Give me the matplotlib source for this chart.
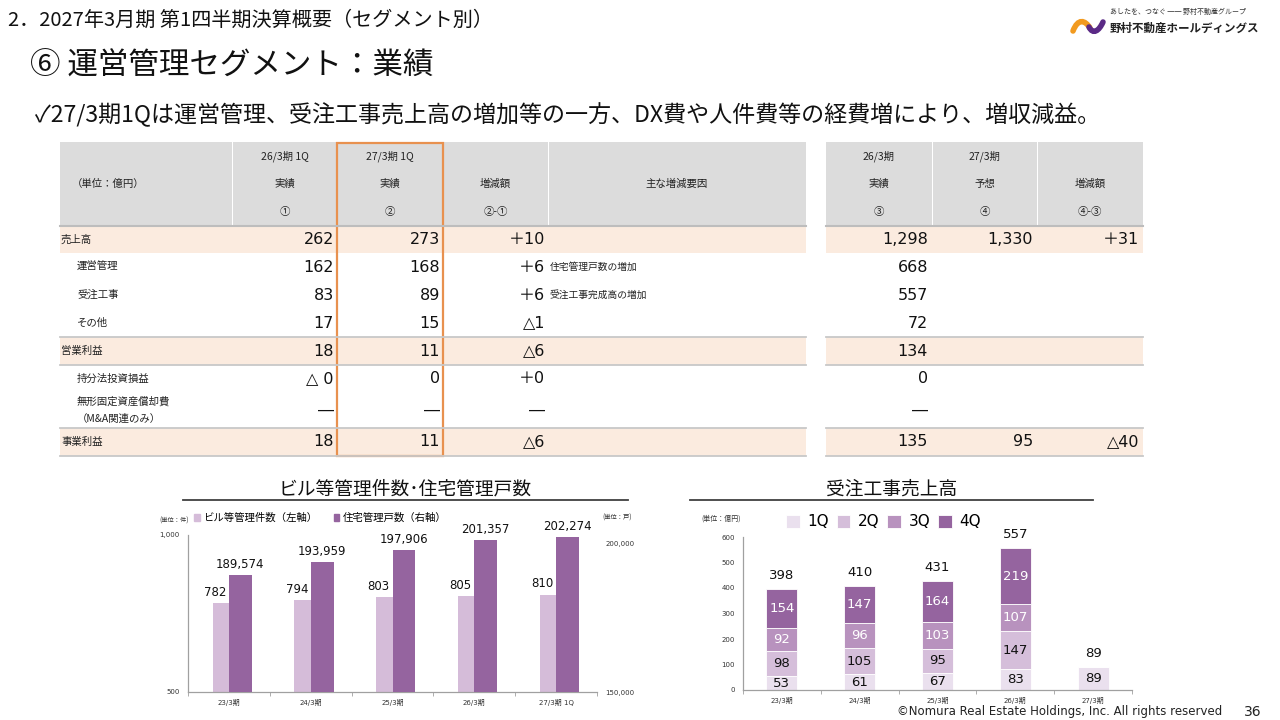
import numpy as np
import matplotlib
matplotlib.use('Agg')
import matplotlib.pyplot as plt
from matplotlib.patches import Rectangle, PathPatch
from matplotlib.path import Path
from matplotlib.ticker import FixedLocator, FuncFormatter

JP = ['Noto Sans CJK JP', 'DejaVu Sans']
NUM = ['DejaVu Sans', 'Noto Sans CJK JP']
plt.rcParams['font.family'] = NUM

# ---------------- data ----------------
# summary table
row_labels = ['売上高', '運営管理', '受注工事', 'その他', '営業利益', '持分法投資損益',
              '無形固定資産償却費\n（M&A関連のみ）', '事業利益']
row_indent = [False, True, True, True, False, True, True, False]
row_highlight = [True, False, False, False, True, False, False, True]
q1_prev = ['262', '162', '83', '17', '18', '△ 0', '―', '18']
q1_curr = ['273', '168', '89', '15', '11', '0', '―', '11']
q1_diff = ['＋10', '＋6', '＋6', '△1', '△6', '＋0', '―', '△6']
reasons = ['', '住宅管理戸数の増加', '受注工事完成高の増加', '', '', '', '', '']
fy_prev = ['1,298', '668', '557', '72', '134', '0', '―', '135']
fy_fcst = ['1,330', '', '', '', '', '', '', '95']
fy_diff = ['＋31', '', '', '', '', '', '', '△40']

hdr_left = [['', '（単位：億円）', ''],
            ['26/3期 1Q', '実績', '①'],
            ['27/3期 1Q', '実績', '②'],
            ['', '増減額', '②-①'],
            ['', '主な増減要因', '']]
hdr_right = [['26/3期', '実績', '③'],
             ['27/3期', '予想', '④'],
             ['', '増減額', '④-③']]

# left chart
periods_left = ['23/3期', '24/3期', '25/3期', '26/3期', '27/3期 1Q']
building_counts = [782, 794, 803, 805, 810]
housing_units = [189574, 193959, 197906, 201357, 202274]

# right chart
periods_right = ['23/3期', '24/3期', '25/3期', '26/3期', '27/3期']
quarter_names = ['1Q', '2Q', '3Q', '4Q']
q1_sales = [53, 61, 67, 83, 89]
q2_sales = [98, 105, 95, 147, 0]
q3_sales = [92, 96, 103, 107, 0]
q4_sales = [154, 147, 164, 219, 0]
sales_totals = [398, 410, 431, 557, 89]

# ---------------- figure ----------------
W, H = 1280, 720
fig = plt.figure(figsize=(12.8, 7.2), dpi=100)
fig.patch.set_facecolor('white')


def rect(x0, y0, x1, y1):
    return [x0 / W, 1 - y1 / H, (x1 - x0) / W, (y1 - y0) / H]


ov = fig.add_axes([0, 0, 1, 1])
ov.set_xlim(0, W)
ov.set_ylim(H, 0)
ov.axis('off')

# titles
ov.text(8, 20, '2．2027年3月期 第1四半期決算概要（セグメント別）', family=JP, fontsize=14.5,
        va='center', ha='left', color='#111111')
ov.text(30, 66, '⑥ 運営管理セグメント：業績', family=JP, fontsize=22, va='center',
        ha='left', color='#111111')
ov.text(35, 115, '✓27/3期1Qは運営管理、受注工事売上高の増加等の一方、DX費や人件費等の経費増により、増収減益。',
        family=JP, fontsize=16.6, va='center', ha='left', color='#111111')

# logo
orange = Path([(1073, 31), (1078, 18), (1085, 20), (1090, 28)],
              [Path.MOVETO, Path.CURVE4, Path.CURVE4, Path.CURVE4])
purple = Path([(1089, 27), (1093, 35), (1099, 31), (1103, 22)],
              [Path.MOVETO, Path.CURVE4, Path.CURVE4, Path.CURVE4])
ov.add_patch(PathPatch(orange, fill=False, lw=4.0, color='#F29A1F', capstyle='round'))
ov.add_patch(PathPatch(purple, fill=False, lw=4.0, color='#5B2A86', capstyle='round'))
ov.text(1110, 28, '野村不動産ホールディングス', family=JP, fontsize=8.3, fontweight='bold',
        va='center', ha='left', color='#222222')
ov.text(1110, 12, 'あしたを、つなぐ ── 野村不動産グループ', family=JP, fontsize=5.0,
        va='center', ha='left', color='#333333')

# footer
ov.text(1222, 712, '©Nomura Real Estate Holdings, Inc. All rights reserved', family=NUM,
        fontsize=8.5, ha='right', va='center', color='#222222')
ov.text(1262, 712, '36', family=NUM, fontsize=10, ha='right', va='center', color='#222222')

# ---------------- table ----------------
GRAY = '#DCDCDC'
PEACH = '#FBEBDF'
left_edges = [60, 232, 337, 443, 548, 806]
right_edges = [826, 932, 1037, 1143]
hdr_top, hdr_bot = 142, 226
hdr_rows_y = [156, 184, 212]
row_bounds = [226, 253, 281, 309, 337, 365, 392, 428, 456]

for edges, hdrs in ((left_edges, hdr_left), (right_edges, hdr_right)):
    for i in range(len(edges) - 1):
        x0, x1 = edges[i], edges[i + 1]
        ov.add_patch(Rectangle((x0 + (1 if i else 0), hdr_top), x1 - x0 - (1 if i else 0),
                               hdr_bot - hdr_top, facecolor=GRAY, edgecolor='none'))
        for j, t in enumerate(hdrs[i]):
            if not t:
                continue
            if t == '（単位：億円）':
                ov.text(x0 + 12, hdr_rows_y[j], t, family=JP, fontsize=7.5, ha='left',
                        va='center', color='#222222')
            else:
                ov.text((x0 + x1) / 2, hdr_rows_y[j], t, family=JP, fontsize=7.5,
                        ha='center', va='center', color='#222222')
    ov.plot([edges[0], edges[-1]], [hdr_bot, hdr_bot], color='#BDBDBD', lw=1.5)

for r in range(len(row_labels)):
    y0, y1 = row_bounds[r], row_bounds[r + 1]
    yc = (y0 + y1) / 2
    if row_highlight[r]:
        ov.add_patch(Rectangle((left_edges[0], y0), left_edges[-1] - left_edges[0], y1 - y0,
                               facecolor=PEACH, edgecolor='none'))
        ov.add_patch(Rectangle((right_edges[0], y0), right_edges[-1] - right_edges[0],
                               y1 - y0, facecolor=PEACH, edgecolor='none'))
    if r in (4, 7):
        for edges in (left_edges, right_edges):
            ov.plot([edges[0], edges[-1]], [y0, y0], color='#C8C8C8', lw=1.3)
            ov.plot([edges[0], edges[-1]], [y1, y1], color='#C8C8C8', lw=1.3)
    lx = 77 if row_indent[r] else 61
    ov.text(lx, yc, row_labels[r], family=JP, fontsize=7.5, ha='left', va='center',
            color='#222222', linespacing=1.9)
    for val, xr in ((q1_prev[r], 334), (q1_curr[r], 440), (q1_diff[r], 545),
                    (fy_prev[r], 928), (fy_fcst[r], 1033), (fy_diff[r], 1139)):
        if val:
            ov.text(xr, yc, val, family=NUM, fontsize=11.5, ha='right', va='center',
                    color='#111111')
    if reasons[r]:
        ov.text(550, yc, reasons[r], family=JP, fontsize=7, ha='left', va='center',
                color='#222222')

ov.add_patch(Rectangle((337, 143), 106, 313, facecolor='none', edgecolor='#E8914F', lw=1.6))

# chart titles
ov.text(405, 489, 'ビル等管理件数･住宅管理戸数', family=JP, fontsize=13.5, ha='center',
        va='center', color='#111111')
ov.plot([183, 628], [500, 500], color='#404040', lw=1.3)
ov.text(892, 489, '受注工事売上高', family=JP, fontsize=13.5, ha='center', va='center',
        color='#111111')
ov.plot([690, 1093], [500, 500], color='#404040', lw=1.3)

# unit labels
ov.text(174, 521, '(単位：件)', family=JP, fontsize=4.5, ha='center', va='center', color='#333333')
ov.text(617, 518, '(単位：戸)', family=JP, fontsize=4.5, ha='center', va='center', color='#333333')
ov.text(721, 519, '(単位：億円)', family=JP, fontsize=5, ha='center', va='center', color='#333333')

# ---------------- left chart ----------------
LIGHT = '#D5BCD9'
DARK = '#95649F'
ax1 = fig.add_axes(rect(188, 535, 597, 692))
ax1.set_facecolor('none')
x = np.arange(len(periods_left))
ax1.bar(x - 0.2, building_counts, width=0.2, align='edge', color=LIGHT,
        label='ビル等管理件数（左軸）')
ax1.set_ylim(500, 1000)
ax1.set_xlim(-0.5, len(x) - 0.5)
for xi, v in zip(x, building_counts):
    ax1.annotate(f'{v:,}', (xi - 0.1, v), xytext=(-4, 3), textcoords='offset points',
                 ha='center', va='bottom', fontsize=8.5, color='#111111')
ax1r = ax1.twinx()
ax1r.bar(x, housing_units, width=0.28, align='edge', color=DARK, label='住宅管理戸数（右軸）')
ax1r.set_ylim(150000, 203000)
for xi, v in zip(x, housing_units):
    ax1r.annotate(f'{v:,}', (xi + 0.14, v), xytext=(0, 3), textcoords='offset points',
                  ha='center', va='bottom', fontsize=8.5, color='#111111')
fmt = FuncFormatter(lambda v, p: f'{int(v):,}')
ax1.yaxis.set_major_locator(FixedLocator([500, 1000]))
ax1.yaxis.set_major_formatter(fmt)
ax1r.yaxis.set_major_locator(FixedLocator([150000, 200000]))
ax1r.yaxis.set_major_formatter(fmt)
ax1.set_xticks(x)
ax1.set_xticklabels(periods_left)
ax1.set_xticks(np.arange(len(x) + 1) - 0.5, minor=True)
ax1.tick_params(axis='x', which='major', length=0, labelsize=5, pad=5, colors='#333333')
ax1.tick_params(axis='x', which='minor', length=3, color='#A0A0A0')
ax1.tick_params(axis='y', length=0, labelsize=5, pad=6, colors='#333333')
ax1r.tick_params(axis='y', length=0, labelsize=5, pad=6, colors='#333333')
for s in ('top', 'right'):
    ax1.spines[s].set_visible(False)
for s in ax1r.spines.values():
    s.set_visible(False)
for s in ('left', 'bottom'):
    ax1.spines[s].set_color('#A0A0A0')
    ax1.spines[s].set_linewidth(0.9)

h1 = [Rectangle((0, 0), 1, 1, color=LIGHT), Rectangle((0, 0), 1, 1, color=DARK)]
fig.legend(h1, ['ビル等管理件数（左軸）', '住宅管理戸数（右軸）'], ncol=2, frameon=False,
           loc='center left', bbox_to_anchor=(194 / W, 1 - 518 / H), borderpad=0,
           borderaxespad=0, handlelength=0.55, handleheight=0.55, handletextpad=0.3,
           columnspacing=1.6, prop={'family': JP, 'size': 7.5})

# ---------------- right chart ----------------
QCOLORS = ['#EAE0EE', '#D5BEDA', '#B892BE', '#95649F']
QTEXT = ['#111111', '#111111', 'white', 'white']
ax2 = fig.add_axes(rect(743, 537, 1132, 690))
ax2.set_facecolor('none')
xr = np.arange(len(periods_right))
bottom = np.zeros(len(xr))
handles = []
for name, vals, col, tc in zip(quarter_names, [q1_sales, q2_sales, q3_sales, q4_sales],
                               QCOLORS, QTEXT):
    vals = np.array(vals, dtype=float)
    b = ax2.bar(xr, vals, width=0.4, bottom=bottom, color=col, edgecolor='white',
                linewidth=0.6, label=name)
    handles.append(b)
    for xi, v, bt in zip(xr, vals, bottom):
        if v > 0:
            ax2.text(xi, bt + v / 2, f'{int(v)}', ha='center', va='center', fontsize=9.5,
                     color=tc)
    bottom = bottom + vals
for xi, t, top in zip(xr, sales_totals, bottom):
    ax2.annotate(f'{t}', (xi, top), xytext=(0, 5), textcoords='offset points',
                 ha='center', va='bottom', fontsize=9.5, color='#111111')
ax2.set_ylim(0, 600)
ax2.set_xlim(-0.5, len(xr) - 0.5)
ax2.set_yticks(np.arange(0, 601, 100))
ax2.set_xticks(xr)
ax2.set_xticklabels(periods_right)
ax2.set_xticks(np.arange(len(xr) + 1) - 0.5, minor=True)
ax2.tick_params(axis='x', which='major', length=0, labelsize=5, pad=5, colors='#333333')
ax2.tick_params(axis='x', which='minor', length=3, color='#A0A0A0')
ax2.tick_params(axis='y', length=0, labelsize=5, pad=6, colors='#333333')
for s in ('top', 'right'):
    ax2.spines[s].set_visible(False)
for s in ('left', 'bottom'):
    ax2.spines[s].set_color('#A0A0A0')
    ax2.spines[s].set_linewidth(0.9)

fig.legend(handles, quarter_names, ncol=4, frameon=False, loc='center left',
           bbox_to_anchor=(786 / W, 1 - 522 / H), borderpad=0, borderaxespad=0,
           handlelength=0.9, handleheight=0.9, handletextpad=0.5, columnspacing=0.5,
           prop={'family': NUM, 'size': 11})

fig.savefig('out.png', dpi=100)
